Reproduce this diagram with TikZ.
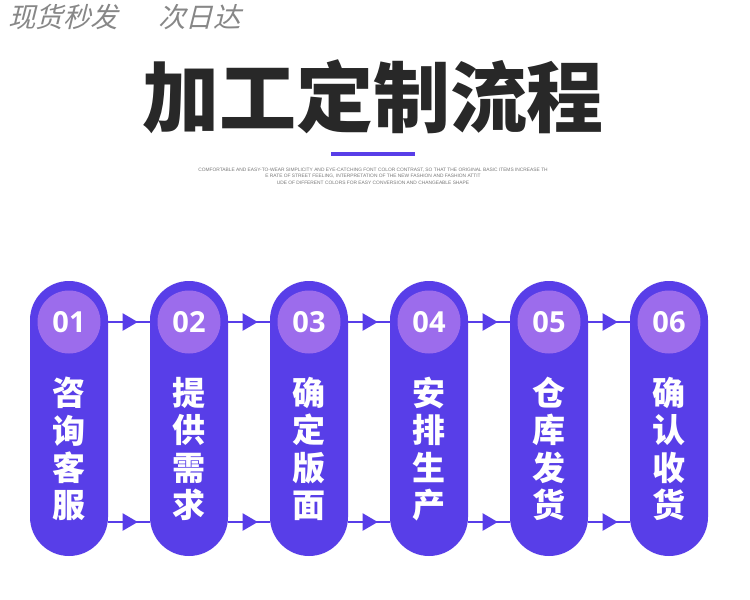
\documentclass[tikz,border=0pt]{standalone}
\usepackage{fontspec}
\setmainfont{Liberation Sans}
\newfontfamily\cjk{Noto Sans CJK SC}
\newfontfamily\cjksl{Noto Sans CJK SC}[FakeSlant=0.25]
\newfontfamily\numf{Open Sans}
\usetikzlibrary{arrows.meta,decorations.markings}
\definecolor{pillc}{RGB}{88,62,232}
\definecolor{circc}{RGB}{156,108,236}
\definecolor{titlec}{RGB}{40,40,40}
\definecolor{subc}{RGB}{120,120,120}
\definecolor{sloganc}{RGB}{135,135,135}
\begin{document}
\begin{tikzpicture}[x=1pt,y=-1pt,
 pill/.style={fill=pillc, rounded corners=39pt, minimum width=78pt, minimum height=275pt, inner sep=0pt},
 numcirc/.style={circle, fill=circc, minimum size=63pt, inner sep=0pt, text=white, font=\numf\bfseries\fontsize{29}{29}\selectfont},
 vtext/.style={text=white, align=center, font=\cjk\bfseries\fontsize{33}{37.3}\selectfont, inner sep=0pt},
 flow/.style={draw=pillc, color=pillc, line width=2pt, postaction={decorate}, decoration={markings, mark=at position 0.71 with {\arrow{Triangle[length=15pt,width=17pt]}}}}
]
\fill[white] (0,0) rectangle (750,600);
\useasboundingbox (0,0) rectangle (750,600);

\node[anchor=west, text=sloganc, inner sep=0pt, font=\cjksl\fontsize{27.5}{27.5}\selectfont] (slogan) at (8,17) {现货秒发\hspace{40pt}次日达};

\node[text=titlec, inner sep=0pt, font=\cjk\bfseries\fontsize{77}{77}\selectfont] (title) at (373,97) {加工定制流程};
\node[fill=pillc, minimum width=84pt, minimum height=3.5pt, inner sep=0pt] (bar) at (373,154) {};
\node[text=subc, align=center, inner sep=0pt, font=\fontsize{4.85}{6.5}\selectfont] (sub) at (373,176)
 {COMFORTABLE AND EASY-TO-WEAR SIMPLICITY AND EYE-CATCHING FONT COLOR CONTRAST, SO THAT THE ORIGINAL BASIC ITEMS INCREASE TH\\
  E RATE OF STREET FEELING, INTERPRETATION OF THE NEW FASHION AND FASHION ATTIT\\
  UDE OF DIFFERENT COLORS FOR EASY CONVERSION AND CHANGEABLE SHAPE};

\coordinate (bot) at (0,522);
\foreach \i/\n/\t in {1/01/{咨\\询\\客\\服},2/02/{提\\供\\需\\求},3/03/{确\\定\\版\\面},4/04/{安\\排\\生\\产},5/05/{仓\\库\\发\\货},6/06/{确\\认\\收\\货}}{
  \pgfmathsetmacro{\xx}{69+120*(\i-1)}
  \node[pill] (p\i) at (\xx,418.5) {};
  \node[numcirc] (c\i) at (\xx,322) {\n};
  \node[vtext] (t\i) at (\xx,449) {\t};
}
\foreach \i/\j in {1/2,2/3,3/4,4/5,5/6}{
  \draw[flow] (p\i.east |- c\i.center) -- (p\j.west |- c\i.center);
  \draw[flow] (p\i.east |- bot) -- (p\j.west |- bot);
}
\end{tikzpicture}
\end{document}
